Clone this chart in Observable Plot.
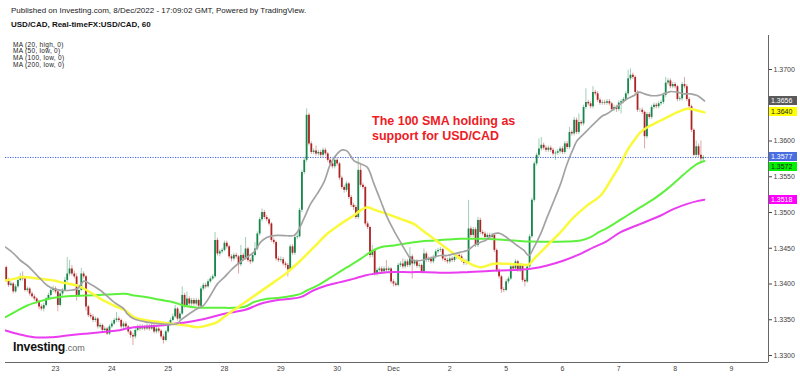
<!DOCTYPE html>
<html><head><meta charset="utf-8">
<script src="https://cdn.jsdelivr.net/npm/d3@7"></script>
<script src="https://cdn.jsdelivr.net/npm/@observablehq/plot@0.6"></script>
<style>
body{margin:0;background:#fff;}
#wrap{position:relative;width:800px;height:376px;font-family:"Liberation Sans",Arial,sans-serif;overflow:hidden;background:#fff;}
#wrap svg{position:absolute;left:0;top:0;}
.t{position:absolute;white-space:nowrap;}
.tag{position:absolute;left:769px;width:28px;height:9px;font-size:7px;line-height:9px;padding-left:2px;box-sizing:border-box;font-family:"Liberation Sans",Arial,sans-serif;}
</style></head><body><div id="wrap"></div>
<script>
// ---- data (prices in pips above 1.3300) ----
const BASE = 1.33;
const FIRST_K = 3;        // index of first hourly candle shown
const FIRST_OPEN = 123;
const closes = [
105,98,100,89,96,105,110,107,91,93,
86,82,79,75,68,65,70,79,84,91,
93,89,70,86,91,105,114,121,114,110,
84,91,114,110,68,56,54,49,51,40,
42,35,37,30,40,44,49,51,49,40,
44,40,33,28,26,35,40,37,40,37,
41,37,42,33,37,34,26,21,33,44,
49,54,65,51,58,84,70,79,72,77,
72,77,69,93,98,96,103,107,110,161,
142,145,147,157,152,138,135,140,138,127,
140,135,149,133,131,140,149,170,190,200,
193,190,184,161,158,135,133,134,128,126,
120,152,143,165,166,203,256,273,336,296,
284,286,282,284,280,287,282,273,268,264,
273,268,248,235,231,240,221,210,207,193,
259,238,235,184,179,140,147,114,119,121,
117,121,119,121,103,100,98,126,128,124,
131,126,138,128,131,125,126,117,142,133,
135,131,137,145,147,148,135,133,131,135,
133,137,140,138,133,129,131,177,168,176,
154,189,172,170,165,168,165,168,147,119,
110,92,91,103,107,124,121,131,119,126,
105,103,124,166,217,268,280,289,294,290,
287,290,287,282,283,285,289,284,296,291,
312,310,329,312,326,324,347,354,352,348,
368,366,357,353,354,353,355,352,344,347,
344,353,355,358,366,387,392,389,368,343,
343,340,306,337,333,347,350,348,352,354,
364,381,384,376,379,376,358,359,379,376,
358,348,315,280,292,280,275,277];
const wickUp = [
2,3,3,2,3,4,5,7,2,3,
2,3,3,2,2,3,3,2,3,3,
4,3,2,3,3,4,23,12,5,4,
4,3,8,3,2,2,3,3,3,2,
3,2,3,2,3,4,3,9,3,2,
3,3,2,2,3,3,3,3,3,2,
3,2,3,2,3,3,2,3,2,3,
3,4,5,2,3,12,3,10,3,3,
3,3,2,3,3,3,3,3,3,11,
3,3,3,3,3,2,3,3,3,2,
14,3,16,2,3,3,9,3,3,5,
3,3,2,2,3,2,3,4,3,3,
3,3,3,3,4,3,3,4,9,3,
3,3,7,3,3,3,3,2,3,3,
3,3,2,3,3,3,2,3,3,3,
18,9,3,2,3,2,7,2,3,3,
3,3,12,3,2,3,3,3,3,7,
3,3,13,3,3,3,3,2,7,3,
3,3,3,3,3,3,2,3,3,3,
3,3,3,3,3,2,3,40,3,3,
3,4,3,3,3,3,3,3,2,2,
2,2,3,3,3,3,3,3,2,3,
2,3,3,3,3,3,3,14,11,3,
3,3,3,3,3,3,3,3,3,3,
7,3,4,3,12,3,3,19,3,3,
8,3,3,3,3,3,3,3,2,3,
3,3,3,3,3,12,9,3,2,2,
3,3,2,3,3,3,3,3,3,3,
3,8,3,3,3,3,2,3,3,10,
3,3,2,2,8,4,20,3];
const wickDn = [
3,3,2,3,2,2,2,3,2,3,
3,2,3,3,4,3,4,2,2,2,
3,3,9,2,3,2,3,3,3,3,
8,3,2,3,6,3,3,3,3,3,
3,3,3,2,2,2,2,3,3,3,
3,3,3,4,12,3,2,3,2,3,
2,3,2,3,3,3,3,5,2,2,
3,2,2,3,2,2,4,3,3,3,
3,3,3,2,3,3,2,2,2,2,
3,4,3,2,3,3,4,3,3,13,
3,3,2,3,4,2,2,2,3,3,
3,3,3,3,3,3,3,3,3,4,
10,2,3,3,3,2,3,3,3,3,
3,3,3,3,3,3,3,3,3,3,
3,3,3,3,4,3,3,3,4,3,
3,3,3,3,3,4,3,3,3,3,
3,3,3,3,3,4,2,2,3,3,
3,3,3,21,3,3,3,3,3,3,
3,3,3,2,3,3,3,3,3,3,
3,3,3,3,3,3,3,2,3,3,
3,3,3,3,3,3,3,3,3,3,
3,5,3,2,3,2,3,3,3,3,
3,7,2,2,2,3,3,3,3,3,
3,3,3,3,9,3,3,3,3,3,
3,3,3,3,3,3,3,3,3,3,
3,3,3,3,3,3,3,3,3,3,
4,3,15,3,3,3,3,3,3,3,
3,3,17,3,3,3,3,3,3,3,
3,3,3,3,3,3,3,3,3,3,
3,3,3,2,3,3,7,3];

// moving averages: [candle index, pips above 1.3300]
const ma20 = [[2.7,151.5],[6.3,142.2],[9.1,132.9],[12,125.9],[14.8,116.6],[17.6,107.2],[20.5,97.9],[23.3,93.2],[29,90.9],[33.2,93.2],[36.1,104],[38.2,101.2],[43.2,90.9],[48.9,74.6],[53.1,65.3],[54.6,58.3],[57.4,51.3],[63,46.6],[68.6,44.3],[75.8,44.3],[77.2,49],[80,55.9],[84.3,65.3],[87,69.9],[90,83.9],[93,100.2],[96,109.6],[98.6,118.9],[101.4,127.3],[104.4,135],[108.5,144.5],[111.4,158.5],[114.2,165.5],[117.1,167.8],[121.3,167.8],[125.6,167.8],[127,172.5],[129.8,191.1],[132.7,212.1],[135.5,226.1],[138.4,242.4],[141.2,268.1],[144,282],[146.2,287.6],[148.3,285.8],[151.1,272.7],[154,268.1],[156.8,263.4],[159.7,240.1],[162.5,216.8],[165.3,193.5],[168.2,174.8],[171,158.5],[173.9,142.2],[175.3,135.2],[176.7,132.9],[179.5,132.9],[182.3,135.2],[185.2,137.5],[188,139.9],[190.9,139.9],[193.8,142.2],[196.6,144.5],[199.4,146.9],[202.3,153.8],[205.1,158.5],[207.2,160.8],[210.8,170.2],[212.9,171.1],[215,167.8],[217.9,160.8],[220.7,153.8],[223.6,146.9],[225.7,139.9],[227.9,151.5],[230.7,170.2],[233.5,193.5],[236.4,216.8],[239.2,240.1],[242,268.1],[244.9,291.4],[246.3,300.7],[249.1,310],[251.9,319.3],[254.8,328.7],[257,335],[259,338],[262,345],[264.8,352],[267.6,359],[270.5,363.6],[272.6,368.3],[274.9,366],[277.6,363.6],[280.4,363.6],[283.2,366],[286,369.2],[288.9,368.3],[291.7,366],[294.6,366],[297.4,363.6],[300.5,356]];
const ma50 = [[2.7,104.9],[6.3,107.2],[9.1,109.6],[12,109.6],[17.6,107.2],[23.3,104.9],[26.1,102.6],[33.2,97.9],[37.5,90.9],[43.2,79.3],[48.9,69.9],[53.8,62.9],[57.4,53.6],[63,49],[68.6,46.6],[72.9,44.3],[80,42],[84.3,39.6],[88.6,42],[92.9,46.6],[95.7,53.6],[98.6,60.6],[102.8,69.9],[109.9,86.2],[117.1,102.6],[122,114.2],[128.4,132.9],[134.1,151.5],[139.8,170.2],[145.5,184.1],[151.1,195.8],[154,203],[156.8,207.5],[159.7,204],[165.3,198],[171,191.1],[176.7,184.1],[179.5,177.2],[182.3,170.2],[185.2,163.2],[188,156.2],[190.9,149.2],[193.8,142.2],[196.6,135.2],[199.4,130.5],[202.3,125.9],[205.1,123.5],[210.8,128.2],[216.5,128.2],[222.1,127.3],[225.7,127.3],[227.9,135.2],[233.5,153.8],[239.2,172.5],[244.9,193.5],[250.6,210],[256.3,223.8],[260.5,244.8],[264.8,268.1],[267.6,286.7],[270.5,300.7],[273.3,312.4],[276.2,319.3],[279,324],[281.9,328.7],[284.7,333.3],[289,340.3],[293.2,345],[297.4,342.7],[300.5,340]];
const ma100 = [[2.7,53.6],[7.7,62.9],[12,69.9],[17.6,76],[23.3,80.7],[29,83],[37.5,83.9],[46,85.3],[53.8,86.2],[57.4,83.9],[63,81.6],[68.6,77.9],[74.3,74.6],[78.5,69.9],[82.8,67.6],[87,66.7],[94.2,66.7],[99.9,66.7],[104.9,68.5],[108.5,74.6],[114.2,79.3],[119.6,80.7],[125.6,83.9],[128.4,86.2],[131.2,90.9],[136.9,100.2],[142.6,111.9],[148.3,123.5],[154,135.2],[158.2,144.5],[162.5,151.5],[168.2,153.8],[173.9,157.1],[179.5,159.4],[185.2,160.8],[190.9,162.2],[196.6,163.2],[207.2,163.2],[219.3,160.8],[226.4,159.4],[242,159.4],[247.7,160.8],[252,165.5],[255.5,172.5],[258.4,177.2],[262,184.1],[267.6,195.8],[273.3,207.5],[279,219.1],[284.7,233.1],[290.4,249.4],[294.6,261.1],[297.4,268.1],[300.5,272]];
const ma200 = [[2.7,35],[7.7,30.3],[14.8,25.6],[21.9,25.6],[29,28],[36.1,30.3],[43.2,32.6],[50.3,35],[53.8,37.3],[57.4,39.6],[63,40.6],[68.6,42],[74.3,44.3],[80,46.6],[85.7,49.9],[91.4,54.5],[97,59.2],[104.9,63.9],[111.4,72.3],[119.6,77.9],[128.4,81.6],[133.8,90.9],[139.5,97.9],[145.2,102.6],[150.9,107.2],[155.9,111.9],[159.7,114.2],[165.3,116.6],[175.3,116.6],[182.4,116.6],[190.9,115.6],[199.4,116.6],[207.2,117.9],[213.6,118.9],[222.1,119.8],[226.4,121.2],[233.5,125.9],[240.6,132.9],[247.7,142.2],[253.4,151.5],[258.4,159],[264.8,172.5],[273.3,184.1],[281.9,195.8],[287.5,205.1],[293.2,212.1],[297.4,215.9],[300.5,218]];

const dayTicks = [24,48,72,96,120,144,168,192,216,240,264,288,312];
const dayLabels = ["23","24","25","28","29","30","Dec","2","5","6","7","8","9"];
// 1.3650 sits under the MA20 price tag in the reference, so it is not shown
const yTicks = [1.33,1.335,1.34,1.345,1.35,1.355,1.36,1.37];
const legendLines = ["MA (20, high, 0)","MA (50, low, 0)","MA (100, low, 0)","MA (200, low, 0)"];

// ---- build ----
const toPrice = p => BASE + p / 10000;
const candles = closes.map((c, i) => {
  const o = i === 0 ? FIRST_OPEN : closes[i - 1];
  return {k: FIRST_K + i, open: toPrice(o), close: toPrice(c),
    high: toPrice(Math.max(o, c) + wickUp[i]), low: toPrice(Math.min(o, c) - wickDn[i]), up: c >= o};
});
const ups = candles.filter(d => d.up), downs = candles.filter(d => !d.up);
const UP = "#16864a", DOWN = "#ad2424";
const lastClose = candles[candles.length - 1].close;
const maLine = (arr, color, w) => Plot.line(arr, {x: d => d[0], y: d => toPrice(d[1]), stroke: color, strokeWidth: w, curve: "catmull-rom", clip: true});

const XMAX = 327.8, YMIN = 1.32902;
const plot = Plot.plot({
  width: 800, height: 376,
  marginLeft: 5, marginRight: 32, marginTop: 35, marginBottom: 14,
  style: {fontFamily: "Liberation Sans, Arial, sans-serif", fontSize: "7px", color: "#444", background: "transparent"},
  x: {domain: [2.7, XMAX], ticks: dayTicks, tickFormat: k => dayLabels[dayTicks.indexOf(k)], tickSize: 0, tickPadding: 4, label: null},
  y: {domain: [YMIN, 1.37476], axis: "right", ticks: yTicks, tickFormat: d => d.toFixed(4), tickSize: 3, tickPadding: 2, label: null},
  marks: [
    Plot.ruleY([lastClose], {stroke: "#3e62dc", strokeWidth: 1, strokeDasharray: "1.2,1.3"}),
    Plot.ruleX(ups, {x: "k", y1: "low", y2: "high", stroke: UP, strokeOpacity: 0.4, strokeWidth: 1, clip: true}),
    Plot.ruleX(downs, {x: "k", y1: "low", y2: "high", stroke: DOWN, strokeOpacity: 0.4, strokeWidth: 1, clip: true}),
    Plot.ruleX(ups, {x: "k", y1: "open", y2: "close", stroke: UP, strokeWidth: 1.8, clip: true}),
    Plot.ruleX(downs, {x: "k", y1: "open", y2: "close", stroke: DOWN, strokeWidth: 1.8, clip: true}),
    maLine(ma200, "#ea3cf0", 2),
    maLine(ma100, "#5df03c", 2),
    maLine(ma50, "#fafa3a", 2.5),
    maLine(ma20, "#a3a3a3", 1.7),
    Plot.ruleX([XMAX], {stroke: "#666", strokeWidth: 1}),
    Plot.ruleY([YMIN], {stroke: "#666", strokeWidth: 1})
  ]
});
const wrap = document.getElementById("wrap");
wrap.appendChild(plot);

function addText(html, css) {
  const d = document.createElement("div");
  d.className = "t"; d.innerHTML = html; d.style.cssText += css; wrap.appendChild(d); return d;
}
addText("Published on Investing.com, 8/Dec/2022 - 17:09:02 GMT, Powered by TradingView.", "left:11px;top:6.7px;font-size:8px;line-height:8px;color:#222;");
addText("USD/CAD, Real-timeFX:USD/CAD, 60", "left:11px;top:20.9px;font-size:8px;line-height:8px;font-weight:bold;color:#111;");
legendLines.forEach((s, i) => addText(s, `left:13px;top:${41.6 + i * 6.67}px;font-size:6.5px;line-height:6.5px;letter-spacing:0.3px;color:#222;`));
addText("The 100 SMA holding as<br>support for USD/CAD", "left:372px;top:113.9px;font-size:12.5px;line-height:15px;font-weight:bold;color:#ee1c25;");
addText('<span style="font-weight:bold;font-size:12.3px;color:#111;letter-spacing:-0.2px">Investing</span><span style="font-size:9px;color:#666">.com</span>', "left:13px;top:339.6px;line-height:12.3px;");

// price tags on the right axis, positioned through the y scale
const yS = plot.scale("y");
const tags = [
  {v: toPrice(ma20[ma20.length - 1][1]), bg: "#5a5a5a", fg: "#fff"},
  {v: toPrice(ma50[ma50.length - 1][1]), bg: "#ffff00", fg: "#222"},
  {v: lastClose, bg: "#4a6ee0", fg: "#fff"},
  {v: toPrice(ma100[ma100.length - 1][1]), bg: "#00f000", fg: "#222"},
  {v: toPrice(ma200[ma200.length - 1][1]), bg: "#ff00ff", fg: "#fff"}
].map(t => ({...t, y: yS.apply(t.v)})).sort((a, b) => a.y - b.y);
for (let i = 1; i < tags.length; i++) if (tags[i].y < tags[i - 1].y + 10) tags[i].y = tags[i - 1].y + 10;
for (const t of tags) {
  const d = document.createElement("div");
  d.className = "tag";
  d.textContent = t.v.toFixed(4);
  d.style.top = (t.y - 4.5) + "px"; d.style.background = t.bg; d.style.color = t.fg;
  wrap.appendChild(d);
}
</script></body></html>
